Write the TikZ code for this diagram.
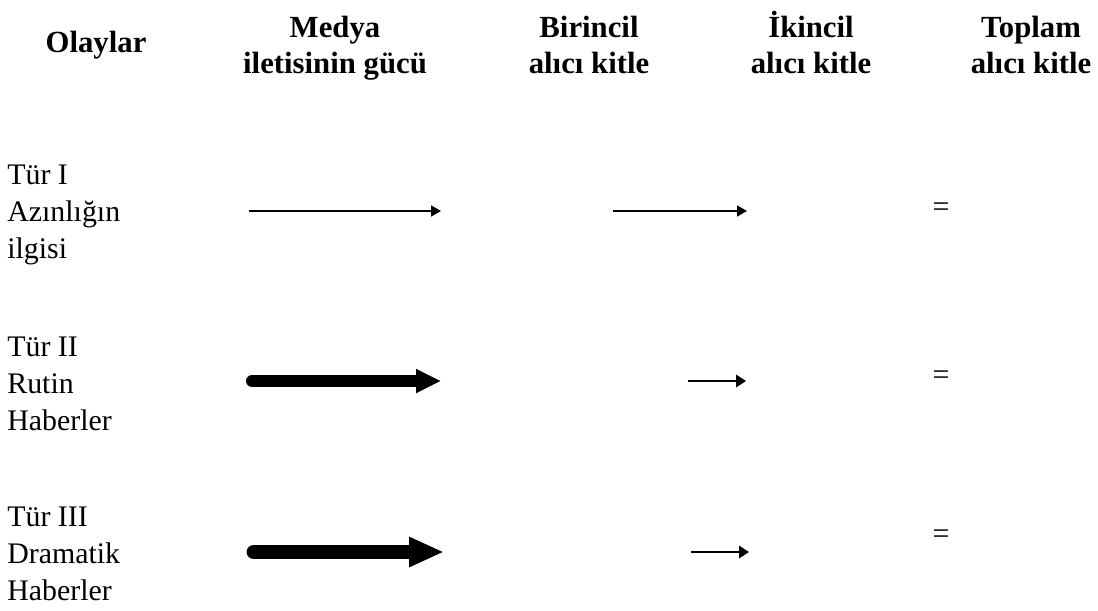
\documentclass[tikz,border=0pt]{standalone}
\usepackage{fontspec}
\setmainfont{Liberation Serif}
\usetikzlibrary{arrows.meta}
\tikzset{
	baslik/.style={font=\bfseries\fontsize{17.5}{20.5}\selectfont, align=center, anchor=north, inner sep=0pt},
	olay/.style={font=\fontsize{17}{21}\selectfont, align=left, anchor=north west, inner sep=0pt},
	esit/.style={font=\fontsize{17}{20}\selectfont, inner sep=0pt},
	ince/.style={line width=0.8pt, -{Triangle[length=0.2cm,width=0.22cm]}},
	kisa/.style={line width=1.1pt, -{Triangle[length=0.2cm,width=0.25cm]}},
	kalin/.style={line width=6.8pt, line cap=round, -{Triangle[length=0.5cm,width=0.45cm]}},
	enkalin/.style={line width=8.5pt, line cap=round, -{Triangle[length=0.7cm,width=0.56cm]}}
}
\begin{document}
\begin{tikzpicture}[x=0.02cm, y=-0.02cm, line join=round]
	\useasboundingbox (0,0) rectangle (1098,610);
	% basliklar
	\node[baslik] (olaylar) at (96,31) {Olaylar};
	\node[baslik] (medya) at (335,16) {Medya\\iletisinin gücü};
	\node[baslik] (birincil) at (589,16) {Birincil\\alıcı kitle};
	\node[baslik] (ikincil) at (811,11) {İkincil\\alıcı kitle};
	\node[baslik] (toplam) at (1031,16) {Toplam\\alıcı kitle};
	% olay turleri
	\node[olay] (tur1) at (7,165) {Tür I\\Azınlığın\\ilgisi};
	\node[olay] (tur2) at (7,337) {Tür II\\Rutin\\Haberler};
	\node[olay] (tur3) at (7,507) {Tür III\\Dramatik\\Haberler};
	% ok uclari
	\coordinate (m1) at (249,211); \coordinate (n1) at (441,211);
	\coordinate (p1) at (613,211); \coordinate (q1) at (747,211);
	\coordinate (m2) at (252,381); \coordinate (n2) at (441,381);
	\coordinate (p2) at (688,381); \coordinate (q2) at (746,381);
	\coordinate (m3) at (254,552); \coordinate (n3) at (444,552);
	\coordinate (p3) at (691,552); \coordinate (q3) at (749,552);
	\draw[ince] (m1)--(n1);
	\draw[ince] (p1)--(q1);
	\draw[kalin] (m2)--(n2);
	\draw[kisa] (p2)--(q2);
	\draw[enkalin] (m3)--(n3);
	\draw[kisa] (p3)--(q3);
	\foreach \i/\y in {1/210,2/378,3/537} \node[esit] (esit\i) at (941,\y) {=};
\end{tikzpicture}
\end{document}
